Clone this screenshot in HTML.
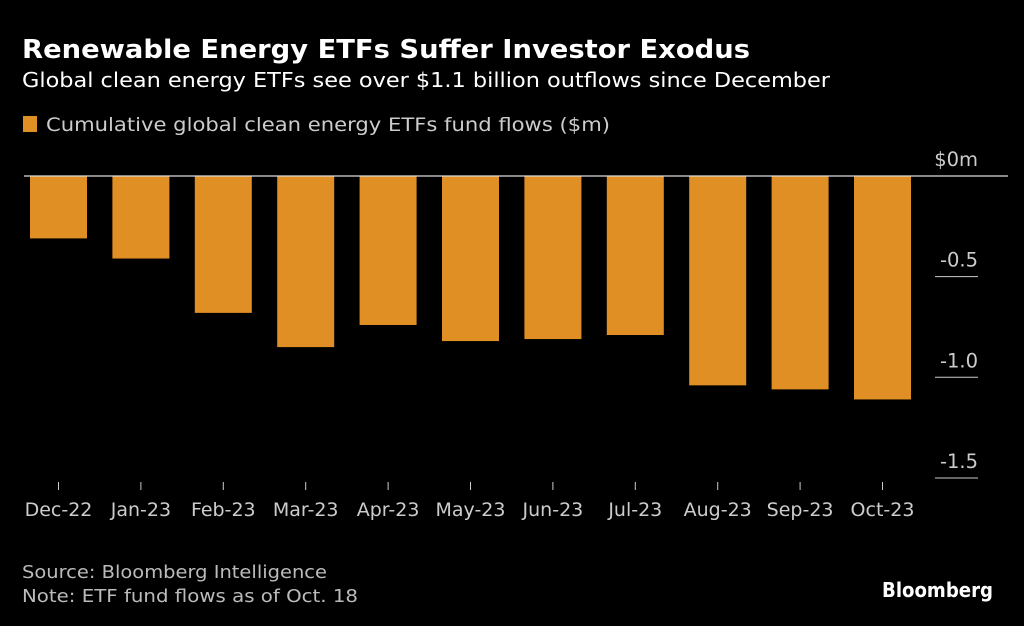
<!DOCTYPE html>
<html><head><meta charset="utf-8"><style>
body{margin:0;background:#000;width:1024px;height:626px;overflow:hidden;font-family:"DejaVu Sans","Liberation Sans",sans-serif;color:#fff}
svg{position:absolute;left:0;top:0;font-family:"DejaVu Sans","Liberation Sans",sans-serif}
</style></head><body>
<svg width="1024" height="626">
<text x="22" y="58" font-size="26" font-weight="bold" fill="#fff" textLength="728" lengthAdjust="spacingAndGlyphs">Renewable Energy ETFs Suffer Investor Exodus</text>
<text x="22" y="87" font-size="20" fill="#fff" textLength="808" lengthAdjust="spacingAndGlyphs">Global clean energy ETFs see over $1.1 billion outflows since December</text>
<rect x="23" y="116" width="14" height="16" fill="#e08f25"/>
<text x="46" y="131" font-size="19" fill="#ccc" textLength="564" lengthAdjust="spacingAndGlyphs">Cumulative global clean energy ETFs fund flows ($m)</text>
<g id="plot"></g>
<text x="22" y="578" font-size="18" fill="#bbb" textLength="305" lengthAdjust="spacingAndGlyphs">Source: Bloomberg Intelligence</text>
<text x="22" y="602" font-size="18" fill="#bbb" textLength="336" lengthAdjust="spacingAndGlyphs">Note: ETF fund flows as of Oct. 18</text>
<text x="993" y="597" font-size="20" font-weight="bold" fill="#fff" text-anchor="end" textLength="111" lengthAdjust="spacingAndGlyphs">Bloomberg</text>
</svg>
<script>
const categories=["Dec-22","Jan-23","Feb-23","Mar-23","Apr-23","May-23","Jun-23","Jul-23","Aug-23","Sep-23","Oct-23"];
const values=[-0.31,-0.41,-0.68,-0.85,-0.74,-0.82,-0.81,-0.79,-1.04,-1.06,-1.11];
const tickValues=[0,-0.5,-1.0,-1.5];
const tickLabels=["$0m","-0.5","-1.0","-1.5"];
const NS="http://www.w3.org/2000/svg";
const g=document.getElementById('plot');
const y=v=>176-v*201.3;
const x=i=>58.5+i*82.4;
function mk(t,a){const e=document.createElementNS(NS,t);for(const k in a)e.setAttribute(k,a[k]);g.appendChild(e);return e;}
tickValues.forEach((v,i)=>{
  if(v!==0){const l=mk('line',{x1:935,x2:978,y1:y(v),y2:y(v),stroke:'#ccc','stroke-width':1});
  
  }
  const t=mk('text',{x:978,y:y(v)-10,'font-size':19.5,fill:'#ccc','text-anchor':'end'});
  t.textContent=tickLabels[i];
  
  
});
categories.forEach((c,i)=>{
  const v=values[i];
  const r=mk('rect',{x:x(i)-28.5,y:y(0),width:57,height:y(v)-y(0),fill:'#e08f25'});
  
  
  const tk=mk('line',{x1:x(i),x2:x(i),y1:482,y2:490,stroke:'#ccc','stroke-width':1});
  
  
  const t=mk('text',{x:x(i),y:516,'font-size':19,fill:'#ccc','text-anchor':'middle'});
  t.textContent=c;
  
  
});
const z=mk('line',{x1:24,x2:1008,y1:y(0),y2:y(0),stroke:'#ddd','stroke-width':1.2});


</script>
</body></html>
